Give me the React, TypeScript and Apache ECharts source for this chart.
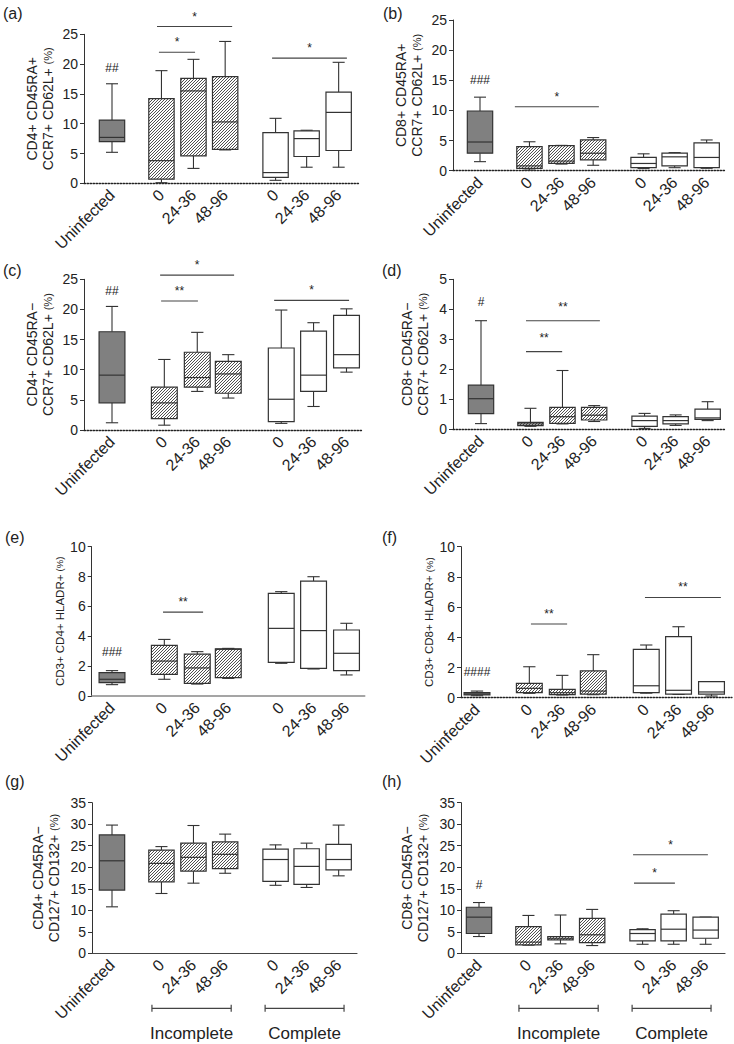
import React, { useEffect, useRef } from "react";
import * as echarts from "echarts";

const FONT = '"Liberation Sans", Arial, Helvetica, sans-serif';

const CATEGORIES = ["Uninfected", "0", "24-36", "48-96", "0", "24-36", "48-96"];
const GROUP_LABELS = ["Incomplete", "Complete"];
// 0 = uninfected (grey), 1 = incomplete (hatched), 2 = complete (open)
const BOX_KIND = [0, 1, 1, 1, 2, 2, 2];

// category positions on the x value axis
const POS_NARROW = [0, 1.56, 2.57, 3.57, 5.16, 6.14, 7.15];
const POS_WIDE = [0, 1.62, 2.64, 3.6, 5.24, 6.24, 7.26];

// [min, Q1, median, Q3, max]
const A_BOX = [
  [5.2, 7.0, 7.7, 10.6, 16.7],
  [0.1, 0.7, 3.8, 14.2, 18.9],
  [2.5, 4.6, 15.5, 17.6, 20.8],
  [5.6, 5.7, 10.3, 17.9, 23.8],
  [0.5, 1.0, 1.8, 8.5, 10.9],
  [2.7, 4.5, 7.5, 8.8, 8.9],
  [2.7, 5.5, 11.9, 15.3, 20.3],
];
const B_BOX = [
  [1.5, 2.9, 4.76, 9.9, 12.2],
  [0.1, 0.4, 0.8, 4.0, 4.8],
  [1.1, 1.2, 1.6, 4.15, 4.2],
  [0.9, 1.8, 2.9, 5.1, 5.5],
  [0.35, 0.5, 1.2, 2.2, 2.8],
  [0.5, 0.8, 2.3, 2.9, 3.0],
  [0.4, 0.5, 2.2, 4.6, 5.1],
];
const C_BOX = [
  [1.2, 4.5, 9.1, 16.3, 20.5],
  [0.8, 1.9, 4.5, 7.1, 11.7],
  [6.4, 7.1, 8.7, 12.9, 16.2],
  [5.3, 6.1, 9.3, 11.4, 12.5],
  [1.1, 1.4, 5.1, 13.6, 19.9],
  [3.9, 6.4, 9.1, 16.4, 17.8],
  [9.6, 10.3, 12.5, 19.0, 20.1],
];
const D_BOX = [
  [0.19, 0.52, 1.02, 1.47, 3.62],
  [0.1, 0.12, 0.18, 0.23, 0.7],
  [0.18, 0.2, 0.42, 0.73, 1.96],
  [0.26, 0.31, 0.47, 0.73, 0.79],
  [0.03, 0.1, 0.29, 0.44, 0.53],
  [0.13, 0.18, 0.29, 0.42, 0.48],
  [0.29, 0.33, 0.38, 0.67, 0.92],
];
const E_BOX = [
  [0.76, 0.89, 1.12, 1.56, 1.7],
  [1.12, 1.45, 2.34, 3.39, 3.79],
  [0.8, 0.85, 1.88, 2.81, 2.97],
  [1.18, 1.23, 3.13, 3.15, 3.19],
  [2.19, 2.25, 4.53, 6.88, 6.99],
  [1.81, 1.85, 4.38, 7.7, 7.99],
  [1.41, 1.7, 2.86, 4.42, 4.87],
];
const F_BOX = [
  [0.13, 0.18, 0.24, 0.33, 0.44],
  [0.29, 0.33, 0.62, 0.95, 2.05],
  [0.18, 0.2, 0.33, 0.55, 1.48],
  [0.2, 0.24, 0.44, 1.77, 2.85],
  [0.3, 0.33, 0.79, 3.2, 3.49],
  [0.22, 0.24, 0.49, 4.04, 4.7],
  [0.11, 0.24, 0.38, 1.06, 1.06],
];
const G_BOX = [
  [10.8, 14.7, 21.5, 27.5, 29.8],
  [13.9, 16.6, 20.9, 24.0, 24.8],
  [16.3, 19.1, 22.3, 25.6, 29.7],
  [18.6, 19.7, 23.0, 25.9, 27.7],
  [15.8, 16.7, 21.8, 24.2, 25.2],
  [15.3, 16.0, 20.2, 24.3, 25.6],
  [18.0, 19.4, 21.8, 25.3, 29.8],
];
const H_BOX = [
  [3.9, 4.6, 8.4, 10.7, 11.8],
  [1.9, 1.95, 2.6, 6.2, 8.8],
  [2.2, 3.1, 3.5, 3.9, 8.9],
  [1.8, 2.5, 4.3, 8.1, 10.2],
  [2.1, 2.9, 4.6, 5.5, 5.7],
  [2.1, 2.9, 5.6, 9.1, 9.9],
  [2.1, 3.5, 5.4, 8.4, 8.4],
];

// significance bars: [x from, x to, y, label]
const A_SIG = [[1.42, 3.79, 26.3, "*"], [1.48, 2.62, 22.0, "*"], [5.05, 7.41, 21.0, "*"]];
const B_SIG = [[1.1, 3.75, 10.6, "*"]];
const C_SIG = [[1.49, 3.78, 25.7, "*"], [1.52, 2.66, 21.4, "**"], [5.02, 7.34, 21.5, "*"]];
const D_SIG = [[1.42, 3.75, 3.62, "**"], [1.42, 2.56, 2.59, "**"]];
const E_SIG = [[1.58, 2.82, 5.62, "**"]];
const F_SIG = [[1.67, 2.79, 4.88, "**"], [5.2, 7.55, 6.64, "**"]];
const G_SIG: any[] = [];
const H_SIG = [[4.86, 7.22, 22.9, "*"], [4.89, 6.18, 16.3, "*"]];

// "#" annotations vs uninfected: [x, y, label]
const A_HASH = [[0, 19.3, "##"]];
const B_HASH = [[0, 15.0, "###"]];
const C_HASH = [[0, 23.0, "##"]];
const D_HASH = [[0, 4.26, "#"]];
const E_HASH = [[0, 2.97, "###"]];
const F_HASH = [[0, 1.72, "####"]];
const G_HASH: any[] = [];
const H_HASH = [[0, 15.9, "#"]];

// group brackets under bottom panels: [x from, x to, group index]
const BRACKETS = [[1.26, 3.76, 0], [4.83, 7.32, 1]];

const PANELS = [
  { letter: "(a)", lx: 3, ly: 5, boxes: A_BOX, sig: A_SIG, hash: A_HASH, yMax: 25, yStep: 5,
    title: ["CD4+ CD45RA+", "CCR7+ CD62L+ (%)"], left: 84, top: 34.3, width: 275, height: 149,
    u: 112, unit: 31.7, pos: POS_NARROW, dotted: true, nameGap: 28, starGap: 10, brackets: false },
  { letter: "(b)", lx: 383, ly: 5, boxes: B_BOX, sig: B_SIG, hash: B_HASH, yMax: 25, yStep: 5,
    title: ["CD8+ CD45RA+", "CCR7+ CD62L+ (%)"], left: 453, top: 20, width: 272, height: 150.7,
    u: 480, unit: 31.7, pos: POS_NARROW, dotted: true, nameGap: 28, starGap: 10, brackets: false },
  { letter: "(c)", lx: 3, ly: 262, boxes: C_BOX, sig: C_SIG, hash: C_HASH, yMax: 25, yStep: 5,
    title: ["CD4+ CD45RA−", "CCR7+ CD62L+ (%)"], left: 84, top: 279.3, width: 279, height: 150.7,
    u: 112, unit: 32.3, pos: POS_WIDE, dotted: true, nameGap: 28, starGap: 10, brackets: false },
  { letter: "(d)", lx: 382, ly: 262, boxes: D_BOX, sig: D_SIG, hash: D_HASH, yMax: 5, yStep: 1,
    title: ["CD8+ CD45RA−", "CCR7+ CD62L+ (%)"], left: 453, top: 279.3, width: 272, height: 150,
    u: 481, unit: 31.7, pos: POS_NARROW, dotted: true, nameGap: 22, starGap: 14, brackets: false },
  { letter: "(e)", lx: 5, ly: 529, boxes: E_BOX, sig: E_SIG, hash: E_HASH, yMax: 10, yStep: 2,
    title: ["CD3+ CD4+ HLADR+ (%)"], left: 91.7, top: 546.7, width: 273, height: 149.3,
    u: 112, unit: 32.3, pos: POS_WIDE, dotted: false, nameGap: 24, starGap: 10, brackets: false },
  { letter: "(f)", lx: 382, ly: 529, boxes: F_BOX, sig: F_SIG, hash: F_HASH, yMax: 10, yStep: 2,
    title: ["CD3+ CD8+ HLADR+ (%)"], left: 461, top: 546.7, width: 271, height: 151,
    u: 477, unit: 32.3, pos: POS_WIDE, dotted: true, nameGap: 24, starGap: 10, brackets: false },
  { letter: "(g)", lx: 5, ly: 773, boxes: G_BOX, sig: G_SIG, hash: G_HASH, yMax: 35, yStep: 5,
    title: ["CD4+ CD45RA−", "CD127+ CD132+ (%)"], left: 92, top: 802.7, width: 265, height: 150.6,
    u: 112, unit: 31.7, pos: POS_NARROW, dotted: false, nameGap: 30, starGap: 10, brackets: true },
  { letter: "(h)", lx: 382, ly: 773, boxes: H_BOX, sig: H_SIG, hash: H_HASH, yMax: 35, yStep: 5,
    title: ["CD8+ CD45RA−", "CD127+ CD132+ (%)"], left: 461, top: 802.7, width: 264, height: 150.6,
    u: 479, unit: 31.7, pos: POS_NARROW, dotted: false, nameGap: 30, starGap: 10, brackets: true },
];

const BOX_W = 0.8;
const CAP_W = 0.38;
const STROKE = "#333";
const HATCH = "#3a3a3a";

function seg(x1: number, y1: number, x2: number, y2: number, color = STROKE, w = 1.1) {
  return { type: "line", shape: { x1, y1, x2, y2 }, style: { stroke: color, lineWidth: w } };
}

function hatchLines(x0: number, y0: number, x1: number, y1: number, step: number) {
  const out: any[] = [];
  let c = Math.ceil((x0 + y0) / step) * step;
  const cEnd = x1 + y1;
  for (; c < cEnd; c += step) {
    const xa = Math.max(x0, c - y1);
    const xb = Math.min(x1, c - y0);
    if (xb - xa > 0.3) out.push(seg(xa, c - xa, xb, c - xb, HATCH, 0.9));
  }
  return out;
}

function boxRender(_params: any, api: any) {
  const x = api.value(0);
  const mn = api.value(1), q1 = api.value(2), md = api.value(3), q3 = api.value(4), mx = api.value(5);
  const kind = api.value(6);
  const pMin = api.coord([x, mn]);
  const cx = pMin[0];
  const yMin = pMin[1];
  const yQ1 = api.coord([x, q1])[1];
  const yMed = api.coord([x, md])[1];
  const yQ3 = api.coord([x, q3])[1];
  const yMax = api.coord([x, mx])[1];
  const hw = api.size([BOX_W, 0])[0] / 2;
  const cw = api.size([CAP_W, 0])[0] / 2;
  const children: any[] = [
    seg(cx, yQ3, cx, yMax), seg(cx - cw, yMax, cx + cw, yMax),
    seg(cx, yQ1, cx, yMin), seg(cx - cw, yMin, cx + cw, yMin),
    { type: "rect", shape: { x: cx - hw, y: yQ3, width: 2 * hw, height: Math.max(yQ1 - yQ3, 0.5) },
      style: { fill: kind === 0 ? "#808080" : "#ffffff", stroke: "none" } },
  ];
  if (kind === 1) children.push(...hatchLines(cx - hw, yQ3, cx + hw, yQ1, 3.0));
  children.push(
    { type: "rect", shape: { x: cx - hw, y: yQ3, width: 2 * hw, height: Math.max(yQ1 - yQ3, 0.5) },
      style: { fill: "none", stroke: STROKE, lineWidth: 1.2 } },
    seg(cx - hw, yMed, cx + hw, yMed, STROKE, 1.2)
  );
  return { type: "group", children };
}

function buildOption() {
  const grid: any[] = [];
  const xAxis: any[] = [];
  const yAxis: any[] = [];
  const series: any[] = [];
  const graphic: any[] = [];

  PANELS.forEach((p, i) => {
    grid.push({ left: p.left, top: p.top, width: p.width, height: p.height, containLabel: false });
    const xMin = (p.left - p.u) / p.unit;
    const xMax = (p.left + p.width - p.u) / p.unit;
    const pos = p.pos;
    xAxis.push({
      gridIndex: i, type: "value", min: xMin, max: xMax,
      axisLine: { show: true, onZero: false, lineStyle: p.dotted
        ? { color: "#222", width: 1.3, type: [1.5, 1.5] }
        : { color: i === 4 ? "#888" : "#444", width: i === 4 ? 1.6 : 1.1 } },
      axisTick: { show: false }, splitLine: { show: false },
      axisLabel: {
        customValues: pos, rotate: 45, margin: 9, fontSize: 16, color: "#222", fontFamily: FONT,
        formatter: (v: number) => {
          const k = pos.findIndex((q) => Math.abs(q - v) < 1e-6);
          return k >= 0 ? CATEGORIES[k] : "";
        },
      },
    });
    const name = p.title.map((l) => l.replace("(%)", "{p|(%)}")).join("\n");
    const single = p.title.length === 1;
    yAxis.push({
      gridIndex: i, type: "value", min: 0, max: p.yMax, interval: p.yStep,
      axisLine: { show: true, onZero: false, lineStyle: { color: "#333", width: 1 } },
      axisTick: { show: true, length: 4, lineStyle: { color: "#333" } },
      splitLine: { show: false },
      axisLabel: { fontSize: 14, color: "#222", margin: 6, fontFamily: FONT },
      name, nameLocation: "middle", nameRotate: 90, nameGap: p.nameGap,
      nameTextStyle: {
        fontSize: single ? 11.5 : 14, color: "#222", fontFamily: FONT, lineHeight: single ? 13 : 16,
        rich: { p: { fontSize: single ? 9.5 : 11, color: "#222", fontFamily: FONT } },
      },
    });

    series.push({
      type: "custom", xAxisIndex: i, yAxisIndex: i, renderItem: boxRender, clip: false,
      encode: { x: 0, y: [1, 2, 3, 4, 5] },
      data: p.boxes.map((b, k) => [pos[k], ...b, BOX_KIND[k]]),
    });

    if (p.sig.length) {
      const sig = p.sig;
      series.push({
        type: "custom", xAxisIndex: i, yAxisIndex: i, clip: false,
        encode: { x: [0, 1], y: 2 },
        data: sig.map((s: any) => [s[0], s[1], s[2]]),
        renderItem: (params: any, api: any) => {
          const a = api.coord([api.value(0), api.value(2)]);
          const b = api.coord([api.value(1), api.value(2)]);
          return {
            type: "group",
            children: [
              seg(a[0], a[1], b[0], b[1], "#444", 1.1),
              { type: "text", x: (a[0] + b[0]) / 2, y: a[1] - p.starGap,
                style: { text: sig[params.dataIndex][3], fontSize: 12, fontFamily: FONT, fill: "#222",
                  align: "center", verticalAlign: "middle" } },
            ],
          };
        },
      });
    }

    if (p.hash.length) {
      const hash = p.hash;
      series.push({
        type: "custom", xAxisIndex: i, yAxisIndex: i, clip: false,
        encode: { x: 0, y: 1 },
        data: hash.map((h: any) => [h[0], h[1]]),
        renderItem: (params: any, api: any) => {
          const c = api.coord([api.value(0), api.value(1)]);
          return {
            type: "group",
            children: [
              { type: "text", x: c[0], y: c[1],
                style: { text: hash[params.dataIndex][2], fontSize: 12, fontFamily: FONT, fill: "#1a1a1a",
                  align: "center", verticalAlign: "middle" } },
            ],
          };
        },
      });
    }

    if (p.brackets) {
      series.push({
        type: "custom", xAxisIndex: i, yAxisIndex: i, clip: false,
        encode: { x: [0, 1] },
        data: BRACKETS.map((b) => [b[0], b[1], b[2]]),
        renderItem: (params: any, api: any) => {
          const a = api.coord([api.value(0), 0]);
          const b = api.coord([api.value(1), 0]);
          const y = a[1] + 55;
          return {
            type: "group",
            children: [
              seg(a[0], y, b[0], y, "#444", 1.2),
              seg(a[0], y - 3.5, a[0], y + 3.5, "#444", 1.2),
              seg(b[0], y - 3.5, b[0], y + 3.5, "#444", 1.2),
              { type: "text", x: (a[0] + b[0]) / 2, y: y + 25,
                style: { text: GROUP_LABELS[BRACKETS[params.dataIndex][2]], fontSize: 17, fontFamily: FONT,
                  fill: "#222", align: "center", verticalAlign: "middle" } },
            ],
          };
        },
      });
    }

    graphic.push({ type: "text", x: p.lx, y: p.ly,
      style: { text: p.letter, fontSize: 16, fontFamily: FONT, fill: "#222", verticalAlign: "top" } });
  });

  return { animation: false, backgroundColor: "#ffffff", grid, xAxis, yAxis, series, graphic };
}

export default function App() {
  const ref = useRef<HTMLDivElement>(null);
  useEffect(() => {
    if (!ref.current) return;
    const chart = echarts.init(ref.current, undefined, { renderer: "svg" });
    chart.setOption(buildOption() as any);
    return () => chart.dispose();
  }, []);
  return (
    <div
      ref={ref}
      style={{ position: "absolute", left: 0, top: 0, width: 734, height: 1044, background: "#fff" }}
    />
  );
}
